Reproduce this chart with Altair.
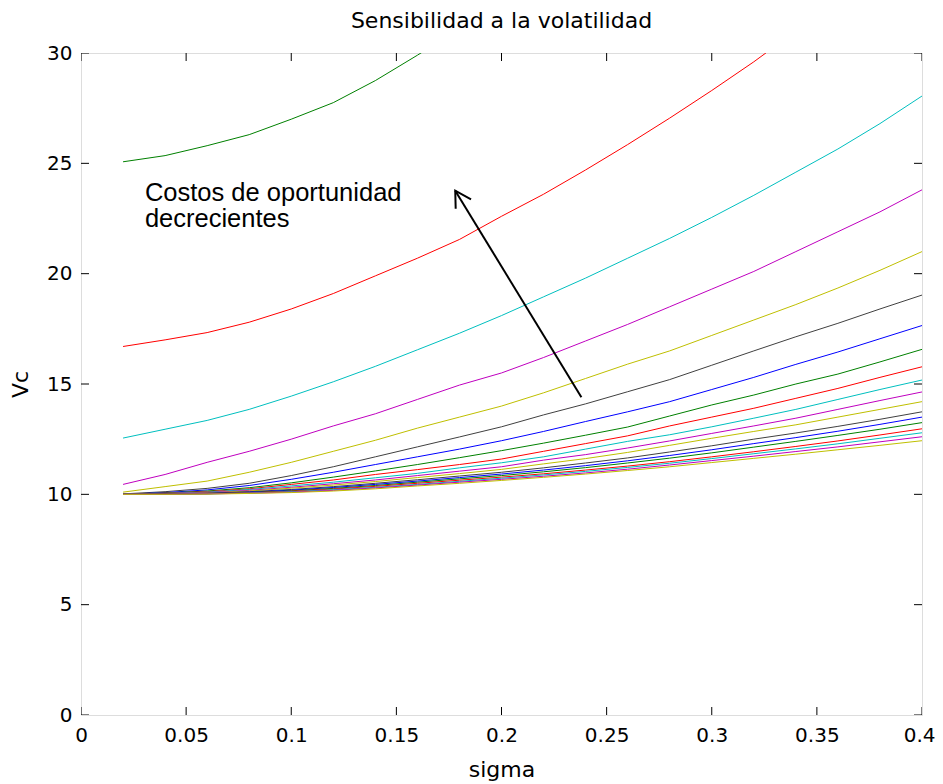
import altair as alt
import pandas as pd

# sigma grid
sigma = [0.02, 0.04, 0.06, 0.08, 0.10, 0.12, 0.14, 0.16, 0.18, 0.20,
         0.22, 0.24, 0.26, 0.28, 0.30, 0.32, 0.34, 0.36, 0.38, 0.40]

# Vc values per curve
g1 = [25.07, 25.35, 25.8, 26.3, 27.0, 27.75, 28.75, 29.9, 31.1]
r1 = [16.7, 17.0, 17.33, 17.8, 18.4, 19.1, 19.9, 20.7, 21.55, 22.6,
      23.6, 24.7, 25.85, 27.05, 28.3, 29.6, 31.0]
c1 = [12.55, 12.95, 13.35, 13.85, 14.45, 15.1, 15.8, 16.55, 17.3, 18.1,
      18.95, 19.8, 20.7, 21.6, 22.55, 23.55, 24.6, 25.65, 26.8, 28.05]
m1 = [10.45, 10.9, 11.45, 11.95, 12.5, 13.1, 13.65, 14.3, 14.95, 15.5,
      16.2, 16.95, 17.7, 18.5, 19.3, 20.1, 21.0, 21.9, 22.8, 23.8]
y1 = [10.1, 10.35, 10.6, 11.0, 11.45, 11.95, 12.45, 13.0, 13.5, 14.0,
      14.6, 15.25, 15.9, 16.5, 17.2, 17.9, 18.6, 19.35, 20.15, 21.0]
k1 = [10.02, 10.12, 10.27, 10.5, 10.85, 11.25, 11.7, 12.15, 12.6, 13.06,
      13.6, 14.1, 14.65, 15.2, 15.85, 16.5, 17.14, 17.75, 18.4, 19.03]
b2 = [10.0, 10.08, 10.2, 10.4, 10.68, 11.0, 11.35, 11.7, 12.05, 12.43,
      12.85, 13.3, 13.74, 14.2, 14.75, 15.3, 15.89, 16.45, 17.05, 17.65]
g2 = [10.0, 10.06, 10.15, 10.3, 10.52, 10.78, 11.06, 11.35, 11.66, 11.98,
      12.32, 12.68, 13.05, 13.55, 14.05, 14.5, 15.0, 15.45, 16.0, 16.57]
r2 = [10.0, 10.05, 10.12, 10.25, 10.45, 10.65, 10.9, 11.12, 11.35, 11.6,
      11.95, 12.3, 12.65, 13.1, 13.5, 13.9, 14.35, 14.8, 15.3, 15.78]
c2 = [10.0, 10.04, 10.1, 10.22, 10.38, 10.55, 10.75, 10.95, 11.2, 11.43,
      11.7, 12.05, 12.4, 12.7, 13.06, 13.45, 13.85, 14.3, 14.75, 15.18]
m2 = [10.0, 10.03, 10.08, 10.18, 10.32, 10.48, 10.65, 10.85, 11.05, 11.25,
      11.55, 11.8, 12.1, 12.42, 12.76, 13.1, 13.45, 13.85, 14.25, 14.64]
y2 = [10.0, 10.02, 10.06, 10.15, 10.28, 10.42, 10.58, 10.76, 10.94, 11.13,
      11.38, 11.62, 11.9, 12.22, 12.54, 12.85, 13.15, 13.5, 13.85, 14.2]
k2 = [10.0, 10.02, 10.05, 10.12, 10.22, 10.35, 10.5, 10.66, 10.83, 11.0,
      11.2, 11.42, 11.65, 11.92, 12.2, 12.5, 12.78, 13.08, 13.4, 13.74]
b3 = [10.0, 10.01, 10.04, 10.1, 10.19, 10.31, 10.45, 10.6, 10.76, 10.92,
      11.1, 11.3, 11.52, 11.76, 12.02, 12.3, 12.57, 12.86, 13.17, 13.5]
g3 = [10.0, 10.01, 10.03, 10.08, 10.16, 10.27, 10.4, 10.55, 10.7, 10.85,
      11.02, 11.21, 11.42, 11.64, 11.88, 12.14, 12.4, 12.67, 12.95, 13.25]
r3 = [10.0, 10.01, 10.03, 10.07, 10.14, 10.24, 10.36, 10.5, 10.64, 10.78,
      10.93, 11.1, 11.28, 11.48, 11.7, 11.93, 12.17, 12.42, 12.69, 12.97]
c3 = [10.0, 10.0, 10.02, 10.06, 10.12, 10.21, 10.32, 10.45, 10.59, 10.73,
      10.88, 11.04, 11.22, 11.41, 11.62, 11.84, 12.06, 12.29, 12.54, 12.79]
m3 = [10.0, 10.0, 10.02, 10.05, 10.1, 10.18, 10.29, 10.42, 10.55, 10.68,
      10.82, 10.97, 11.14, 11.33, 11.53, 11.73, 11.94, 12.15, 12.38, 12.61]
y3 = [10.0, 10.0, 10.01, 10.04, 10.08, 10.15, 10.25, 10.38, 10.5, 10.63,
      10.77, 10.92, 11.08, 11.25, 11.44, 11.63, 11.82, 12.02, 12.22, 12.43]

series_names = ["g1", "r1", "c1", "m1", "y1", "k1", "b2", "g2", "r2", "c2",
                "m2", "y2", "k2", "b3", "g3", "r3", "c3", "m3", "y3"]
series_values = [g1, r1, c1, m1, y1, k1, b2, g2, r2, c2,
                 m2, y2, k2, b3, g3, r3, c3, m3, y3]
series_colors = ["#008000", "#FF0000", "#00BFBF", "#BF00BF", "#BFBF00", "#404040",
                 "#0000FF", "#008000", "#FF0000", "#00BFBF", "#BF00BF", "#BFBF00",
                 "#404040", "#0000FF", "#008000", "#FF0000", "#00BFBF", "#BF00BF",
                 "#BFBF00"]

x_ticks = [0, 0.05, 0.1, 0.15, 0.2, 0.25, 0.3, 0.35, 0.4]
y_ticks = [0, 5, 10, 15, 20, 25, 30]

annotation_lines = ["Costos de oportunidad", "decrecientes"]

rows = []
for i, (name, vals) in enumerate(zip(series_names, series_values)):
    for s, v in zip(sigma, vals):
        rows.append({"serie": name, "order": i, "sigma": s, "vc": v})
df = pd.DataFrame(rows)

FONT = "DejaVu Sans"

xenc = alt.X("sigma:Q",
             scale=alt.Scale(domain=[0, 0.4], nice=False, zero=False),
             axis=alt.Axis(values=x_ticks, format="~g", title="sigma",
                           ticks=False, tickSize=0, domain=False, grid=False,
                           labelPadding=10, titlePadding=14,
                           labelAlign={"condition": {"test": "datum.value >= 0.4", "value": "right"},
                                       "value": "center"},
                           labelOffset={"condition": {"test": "datum.value >= 0.4", "value": 13},
                                        "value": 0},
                           labelFont=FONT, labelFontSize=20, labelColor="black",
                           titleFont=FONT, titleFontSize=22, titleFontWeight="normal",
                           titleColor="black", labelFlush=False))
yenc = alt.Y("vc:Q",
             scale=alt.Scale(domain=[0, 30], nice=False, zero=False),
             axis=alt.Axis(values=y_ticks, format="d", title="Vc",
                           ticks=False, tickSize=0, domain=False, grid=False,
                           labelPadding=9, titlePadding=14,
                           labelFont=FONT, labelFontSize=20, labelColor="black",
                           titleFont=FONT, titleFontSize=22, titleFontWeight="normal",
                           titleColor="black", labelFlush=False))

lines = alt.Chart(df).mark_line(clip=True, strokeWidth=1).encode(
    x=xenc,
    y=yenc,
    color=alt.Color("serie:N", scale=alt.Scale(domain=series_names, range=series_colors),
                    legend=None),
    order=alt.Order("sigma:Q"),
)

# inward ticks (half clipped away)
bottom_df = pd.DataFrame({"sigma": x_ticks, "vc": [0] * len(x_ticks)})
top_df = pd.DataFrame({"sigma": x_ticks, "vc": [30] * len(x_ticks)})
left_df = pd.DataFrame({"sigma": [0] * len(y_ticks), "vc": y_ticks})
right_df = pd.DataFrame({"sigma": [0.4] * len(y_ticks), "vc": y_ticks})

tick_v = dict(clip=True, orient="vertical", size=16, thickness=1, color="black", opacity=1)
tick_h = dict(clip=True, orient="horizontal", size=16, thickness=1, color="black", opacity=1)
ticks = [
    alt.Chart(bottom_df).mark_tick(**tick_v).encode(x=xenc, y=yenc),
    alt.Chart(top_df).mark_tick(**tick_v).encode(x=xenc, y=yenc),
    alt.Chart(left_df).mark_tick(**tick_h).encode(x=xenc, y=yenc),
    alt.Chart(right_df).mark_tick(**tick_h).encode(x=xenc, y=yenc),
]

# annotation
annot = alt.Chart().mark_text(
    text=annotation_lines,
    align="left", baseline="alphabetic", lineHeight=26,
    font="Liberation Sans", fontSize=25.5, color="black",
).encode(x=alt.datum(0.0304), y=alt.datum(23.3))

arrow_shaft = alt.Chart().mark_rule(color="black", strokeWidth=2).encode(
    x=alt.datum(0.238), y=alt.datum(14.4),
    x2=alt.datum(0.178), y2=alt.datum(23.76),
)
arrow_head = alt.Chart().mark_point(
    shape="M-0.5,0.866L0,0L0.5,0.866", size=1296, angle=328.6,
    filled=False, color="black", strokeWidth=2, opacity=1,
).encode(x=alt.datum(0.178), y=alt.datum(23.76))

chart = alt.layer(lines, *ticks, arrow_shaft, arrow_head, annot).properties(
    width=841, height=662,
    title=alt.TitleParams("Sensibilidad a la volatilidad", font=FONT, fontSize=22,
                          fontWeight="normal", color="black", offset=10),
    padding={"left": 73, "top": 45, "right": 13, "bottom": 70},
    autosize="none",
).configure_view(stroke="black", strokeWidth=1).configure(background="white")

chart.save("out.html", embed_options={"renderer": "svg", "actions": False})
